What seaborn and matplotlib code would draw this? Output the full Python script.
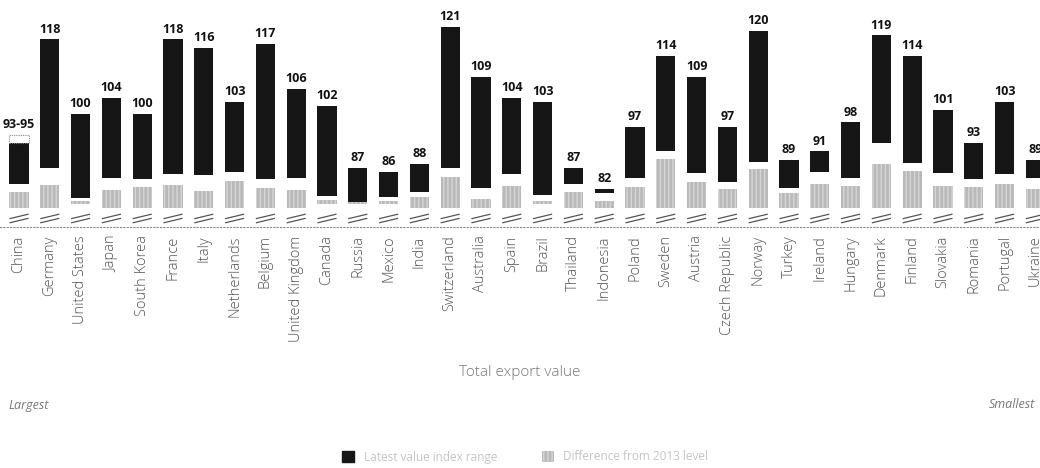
import numpy as np
import pandas as pd
import matplotlib
matplotlib.use("Agg")
import matplotlib.pyplot as plt
from matplotlib.patches import Patch
import seaborn as sns

countries = ["China", "Germany", "United States", "Japan", "South Korea", "France", "Italy",
             "Netherlands", "Belgium", "United Kingdom", "Canada", "Russia", "Mexico", "India",
             "Switzerland", "Australia", "Spain", "Brazil", "Thailand", "Indonesia", "Poland",
             "Sweden", "Austria", "Czech Republic", "Norway", "Turkey", "Ireland", "Hungary",
             "Denmark", "Finland", "Slovakia", "Romania", "Portugal", "Ukraine"]
top_value = [93, 118, 100, 104, 100, 118, 116, 103, 117, 106, 102, 87, 86, 88, 121, 109, 104,
             103, 87, 82, 97, 114, 109, 97, 120, 89, 91, 98, 119, 114, 101, 93, 103, 89]
top_labels = ["93-95", "118", "100", "104", "100", "118", "116", "103", "117", "106", "102",
              "87", "86", "88", "121", "109", "104", "103", "87", "82", "97", "114", "109",
              "97", "120", "89", "91", "98", "119", "114", "101", "93", "103", "89"]
china_upper = 95
black_low = [83.2, 87.0, 79.8, 84.6, 84.4, 85.6, 85.3, 86.1, 84.4, 84.6, 80.3, 78.8, 80.0, 81.2,
             87.0, 82.2, 85.6, 80.5, 83.2, 81.0, 84.6, 91.1, 85.8, 83.7, 88.5, 82.2, 86.1, 84.6,
             93.0, 88.2, 85.8, 84.4, 85.6, 84.6]
gray_high = [81.2, 82.9, 79.1, 81.7, 82.4, 82.9, 81.5, 83.9, 82.2, 81.7, 79.3, 79.1, 79.1, 80.0,
             84.9, 79.6, 82.7, 79.1, 81.2, 79.1, 82.4, 89.2, 83.7, 82.0, 86.8, 81.0, 83.2, 82.7,
             88.0, 86.3, 82.7, 82.4, 83.2, 82.0]
gray_low = [77.4, 77.4, 78.3, 77.4, 77.4, 77.4, 77.4, 77.4, 77.4, 77.4, 78.3, 78.3, 78.3, 77.4,
            77.4, 77.4, 77.4, 78.3, 77.4, 77.4, 77.4, 77.4, 77.4, 77.4, 77.4, 77.4, 77.4, 77.4,
            77.4, 77.4, 77.4, 77.4, 77.4, 77.4]
legend_labels = ["Latest value index range", "Difference from 2013 level"]
axis_title = "Total export value"
left_note = "Largest"
right_note = "Smallest"

df = pd.DataFrame({
    "country": countries,
    "top": top_value,
    "black_low": black_low,
    "black_h": np.array(top_value) - np.array(black_low),
    "gray_low": gray_low,
    "gray_h": np.array(gray_high) - np.array(gray_low),
})

sns.set_theme(style="white")
plt.rcParams["font.family"] = ["Open Sans", "DejaVu Sans"]

fig = plt.figure(figsize=(10.4, 4.68), dpi=100)
ax = fig.add_axes([0.0, 1 - 227 / 468, 1.0, 227 / 468])

black = "#161616"
gray = "#b9b9b9"

sns.barplot(data=df, x="country", y="gray_h", bottom=df["gray_low"].to_numpy(), color=gray,
            width=0.62, linewidth=0, hatch="||||", edgecolor="#d6d6d6", saturation=1, ax=ax)
sns.barplot(data=df, x="country", y="black_h", bottom=df["black_low"].to_numpy(), color=black,
            width=0.62, linewidth=0, saturation=1, ax=ax)

# China dashed upper range
ax.bar(0, china_upper - top_value[0], bottom=top_value[0], width=0.62, fill=False,
       edgecolor="#888888", linestyle=(0, (1, 1)), linewidth=0.8)

ax.set_xlim(-0.617, 33.15)
ax.set_ylim(72.8, 127.5)

# value labels
for i, (v, lab) in enumerate(zip(top_value, top_labels)):
    yv = china_upper if i == 0 else v
    ax.text(i, yv + 0.9, lab, ha="center", va="bottom", fontsize=9, fontweight="bold",
            color="#111111")

# axis break marks
for i in range(len(countries)):
    ax.plot([i - 0.31, i + 0.31], [74.8, 75.9], color="#555555", lw=0.9, solid_capstyle="butt")
    ax.plot([i - 0.31, i + 0.31], [73.8, 74.9], color="#555555", lw=0.9, solid_capstyle="butt")

for s in ["top", "left", "right"]:
    ax.spines[s].set_visible(False)
ax.spines["bottom"].set_color("#888888")
ax.spines["bottom"].set_linestyle((0, (1, 2)))
ax.spines["bottom"].set_linewidth(0.8)
ax.set_yticks([])
ax.set_xlabel("")
ax.set_ylabel("")
ax.tick_params(axis="x", length=0, pad=6)
ax.set_xticks(range(len(countries)))
ax.set_xticklabels(countries, rotation=90, fontsize=10.5, color="#555555", fontweight="light")

fig.text(0.5, 1 - 373 / 468, axis_title, ha="center", va="center", fontsize=11,
         color="#777777", fontweight="light")
fig.text(0.008, 1 - 405 / 468, left_note, ha="left", va="center", fontsize=9,
         color="#777777", style="italic")
fig.text(0.995, 1 - 405 / 468, right_note, ha="right", va="center", fontsize=9,
         color="#777777", style="italic")

handles = [Patch(facecolor=black, edgecolor=black),
           Patch(facecolor=gray, edgecolor="#d6d6d6", hatch="||||", linewidth=0)]
leg = fig.legend(handles, legend_labels, loc="center", bbox_to_anchor=(0.505, 1 - 457 / 468),
                 ncol=2, frameon=False, fontsize=8.5, handlelength=1.0, handleheight=1.0,
                 columnspacing=3.8, handletextpad=0.8)
for t in leg.get_texts():
    t.set_color("#c4c4c4")

fig.savefig("out.png", dpi=100)
